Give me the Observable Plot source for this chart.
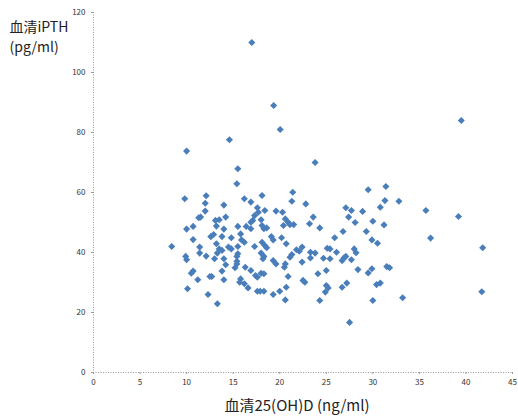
<!DOCTYPE html>
<html>
<head>
<meta charset="utf-8">
<script src="https://cdn.jsdelivr.net/npm/d3@7"></script>
<script src="https://cdn.jsdelivr.net/npm/@observablehq/plot@0.6"></script>
<style>
  html, body { margin: 0; padding: 0; background: #fff; }
  #chart { width: 518px; height: 417px; }
</style>
</head>
<body>
<div id="chart"></div>
<script>
// Serum 25(OH)D (ng/ml)
const vitD = [
  8.4, 9.8, 9.9, 10.0, 10.0, 10.0, 10.7, 10.7, 10.5, 10.7, 10.1, 11.2, 11.3, 11.5, 11.4, 11.4,
  12.1, 12.0, 12.0, 12.6, 12.9, 12.1, 12.5, 12.7, 12.3, 13.1, 13.5, 13.2, 13.2, 13.5, 13.8, 13.0,
  13.3, 13.3, 13.8, 13.8, 14.0, 14.0, 14.0, 14.0, 14.2, 14.2, 14.5, 14.8, 14.8, 14.6, 15.5, 15.4,
  15.5, 15.5, 15.4, 15.2, 15.7,
  16.2, 16.9, 18.1, 21.4, 21.3, 22.8, 17.6, 17.7, 18.4, 19.6, 20.3, 17.3, 17.1, 16.9, 18.0, 20.6,
  20.9, 21.5, 21.1, 16.4, 16.9, 18.1, 18.3, 18.6, 15.8, 15.9, 16.2, 17.3, 19.1, 19.3, 20.2, 20.7,
  18.1, 18.4, 18.6, 15.4, 15.5, 18.0, 18.3, 18.2, 19.3, 19.6, 20.6, 20.5, 21.1, 21.3, 21.8, 22.1,
  22.4, 22.4, 15.4, 16.3, 16.9, 17.4, 17.6, 18.0, 18.3, 15.8, 16.2, 16.6, 17.6, 17.9, 18.3, 19.3,
  20.0, 20.7, 20.9, 20.6, 22.5, 22.7,
  17.0, 19.35, 20.05, 23.8, 39.5, 20.4,
  29.5, 31.4, 32.8, 31.3, 30.8, 27.1, 27.7, 28.9, 23.6, 23.2, 24.3, 27.4, 28.1, 30.0, 31.2, 26.8,
  29.3, 25.9, 29.9, 30.5, 23.3, 23.8, 23.3, 25.1, 25.4, 26.1, 24.7, 25.4, 28.0, 28.2, 26.9, 26.7,
  27.1, 27.7, 28.4, 24.1, 25.0, 29.5, 29.9, 31.5, 31.8, 25.0, 25.2, 24.9, 26.7, 27.2, 30.4, 30.8,
  24.3, 30.0, 33.2, 27.5,
  35.7, 39.2, 36.2, 41.8, 41.7
];
// Serum iPTH (pg/ml)
const ipth = [
  42.0, 57.9, 38.7, 37.6, 73.8, 47.8, 48.7, 44.3, 33.1, 33.8, 27.9, 30.9, 51.6, 51.8, 41.8, 39.8,
  58.9, 56.4, 53.8, 45.3, 46.0, 38.8, 32.0, 32.0, 26.0, 50.7, 50.9, 48.8, 42.9, 41.2, 40.7, 37.9,
  39.8, 22.9, 45.3, 33.8, 55.8, 47.8, 37.9, 30.9, 51.8, 35.9, 41.8, 41.2, 44.9, 77.6, 67.9, 62.9,
  48.7, 42.0, 37.1, 34.9, 30.1,
  57.9, 56.8, 59.0, 60.1, 57.1, 56.2, 54.9, 53.4, 54.0, 53.8, 53.4, 52.3, 50.7, 50.1, 50.9, 51.2,
  50.1, 49.3, 49.3, 48.7, 47.9, 49.0, 47.9, 48.2, 46.2, 44.2, 43.4, 42.0, 45.3, 44.2, 44.9, 42.9,
  43.4, 42.3, 41.6, 38.7, 39.6, 39.8, 38.7, 37.9, 37.3, 36.2, 36.2, 35.1, 38.4, 39.3, 40.9, 40.4,
  41.8, 36.8, 36.2, 35.1, 34.0, 32.3, 31.8, 33.1, 32.9, 31.2, 29.6, 28.2, 27.1, 27.1, 27.1, 26.0,
  27.1, 28.4, 32.0, 24.2, 30.7, 30.1,
  110.0, 89.0, 81.0, 70.0, 84.0, 49.0,
  60.9, 62.0, 57.1, 57.3, 55.1, 54.9, 54.0, 53.7, 51.8, 49.6, 48.2, 51.8, 50.0, 50.4, 49.2, 47.0,
  47.0, 44.9, 44.2, 43.1, 40.1, 39.8, 38.2, 41.4, 41.2, 40.1, 38.1, 37.9, 41.2, 39.9, 38.2, 37.3,
  38.7, 37.6, 34.3, 32.9, 34.0, 33.2, 34.6, 35.3, 34.9, 29.0, 28.2, 26.8, 28.4, 29.8, 29.3, 29.8,
  24.0, 24.0, 24.9, 16.7,
  54.0, 52.0, 44.8, 41.6, 26.9
];
const xTicks = [0, 5, 10, 15, 20, 25, 30, 35, 40, 45];
const yTicks = [0, 20, 40, 60, 80, 100, 120];
const xTitle = "血清25(OH)D (ng/ml)";
const yTitleLines = ["血清iPTH", "(pg/ml)"];

const data = vitD.map((d, i) => ({x: d, y: ipth[i]}));
const font = "'Noto Sans CJK SC', 'Open Sans', sans-serif";
const diamond = d3.symbolDiamond2 || "diamond";

const chart = Plot.plot({
  width: 518,
  height: 417,
  marginLeft: 93,
  marginRight: 6,
  marginTop: 12,
  marginBottom: 45,
  style: {fontFamily: font, background: "#fff", overflow: "visible"},
  x: {domain: [0, 45], ticks: xTicks},
  y: {domain: [0, 120], ticks: yTicks},
  marks: [
    Plot.ruleX([0], {stroke: "#999", strokeDasharray: "1,1.5", strokeWidth: 1}),
    Plot.ruleY([0], {stroke: "#999", strokeDasharray: "1,1.5", strokeWidth: 1}),
    Plot.axisX({ticks: xTicks, tickSize: 2, stroke: "#999", tickPadding: 5, fontSize: 8, fill: "#333", label: null}),
    Plot.axisY({ticks: yTicks, tickSize: 2, stroke: "#999", tickPadding: 6, fontSize: 8, fill: "#333", label: null}),
    Plot.dot(data, {x: "x", y: "y", symbol: diamond, r: 3.2, fill: "#4a7ebb", stroke: "none"}),
    Plot.text([xTitle], {frameAnchor: "bottom", dy: 38, dx: -6, fontSize: 15, fill: "#222", fontFamily: font}),
    Plot.text([yTitleLines.join("\n")], {frameAnchor: "top-left", dx: -84, dy: 5, lineHeight: 1.45, textAnchor: "start", lineAnchor: "top", fontSize: 14, fill: "#222", fontFamily: font})
  ]
});
document.getElementById("chart").appendChild(chart);
</script>
</body>
</html>
